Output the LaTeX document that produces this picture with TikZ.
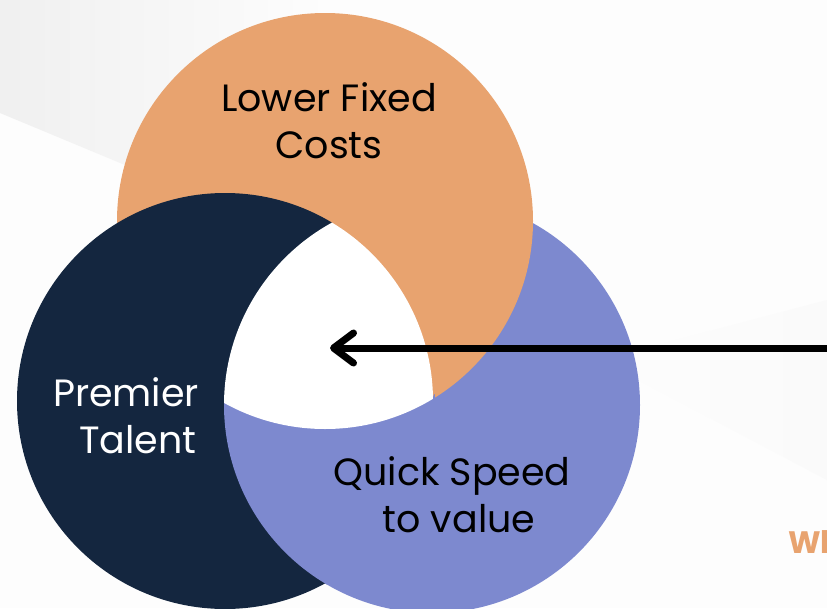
\documentclass[tikz,border=0pt]{standalone}
\usepackage{fontspec}
\setmainfont{Poppins}
\usetikzlibrary{arrows.meta}

\definecolor{costorange}{HTML}{E8A36F}
\definecolor{talentnavy}{HTML}{14263F}
\definecolor{speedpurple}{HTML}{7D89CF}
\definecolor{pagewhite}{HTML}{FDFDFD}

\tikzset{
  label text/.style={font=\fontsize{38}{47}\selectfont, align=center, inner sep=0pt},
  pointer/.style={line width=7pt, -{Straight Barb[length=20pt,width=30pt,round]}},
}

\begin{document}
\begin{tikzpicture}[x=1pt,y=-1pt]
  \useasboundingbox (0,0) rectangle (827,608);

  % soft page background
  \fill[pagewhite] (0,0) rectangle (827,608);
  \shade[left color=black!6, right color=pagewhite]
    (0,0) -- (330,0) -- (330,210) -- (125,165) -- (0,113) -- cycle;
  \shade[left color=pagewhite, right color=black!2]
    (600,360) -- (827,300) -- (827,480) -- cycle;

  % the three circles: purple under orange, orange under navy
  \fill[speedpurple] (432,405) circle[radius=208pt];
  \fill[costorange]  (325,221) circle[radius=208pt];
  \fill[talentnavy]  (225,401) circle[radius=208pt];
  % purple lies over navy where they overlap (outside the orange circle)
  \begin{scope}
    \clip (432,405) circle[radius=208pt];
    \begin{scope}[even odd rule]
      \clip (0,0) rectangle (827,608) (325,221) circle[radius=205pt];
      \fill[speedpurple] (225,401) circle[radius=210pt];
    \end{scope}
  \end{scope}
  % clean orange rim along the navy arc that borders the centre
  \begin{scope}
    \clip (432,405) circle[radius=208pt];
    \clip (325,221) circle[radius=206pt];
    \draw[costorange, line width=1.5pt] (225,401) circle[radius=208pt];
  \end{scope}
  % the common centre is left empty
  \begin{scope}
    \clip (432,405) circle[radius=208pt];
    \clip (225,401) circle[radius=208pt];
    \fill[white] (325,221) circle[radius=208pt];
  \end{scope}

  % labels (anchored at the baseline of their last line)
  \node[label text, text=black, anchor=base] (costs) at (329,158)
    {Lower Fixed\\Costs};
  \node[label text, text=white, anchor=base] (talent) at (126,453)
    {Premier\\\hspace*{24pt}Talent};
  \node[label text, text=black, anchor=base] (speed) at (452,532)
    {Quick Speed\\\hspace*{14pt}to value};

  \begin{scope}
    \clip (0,0) rectangle (827,608);
    \node[font=\fontsize{31}{36}\selectfont\bfseries, text=costorange,
          anchor=base west, inner sep=0pt] (why) at (788,553) {Wh};
  \end{scope}

  % pointer into the shared centre
  \coordinate (hub) at (330,348);
  \coordinate (offpage) at (845,348);
  \draw[pointer] (offpage) -- (hub);
\end{tikzpicture}
\end{document}
